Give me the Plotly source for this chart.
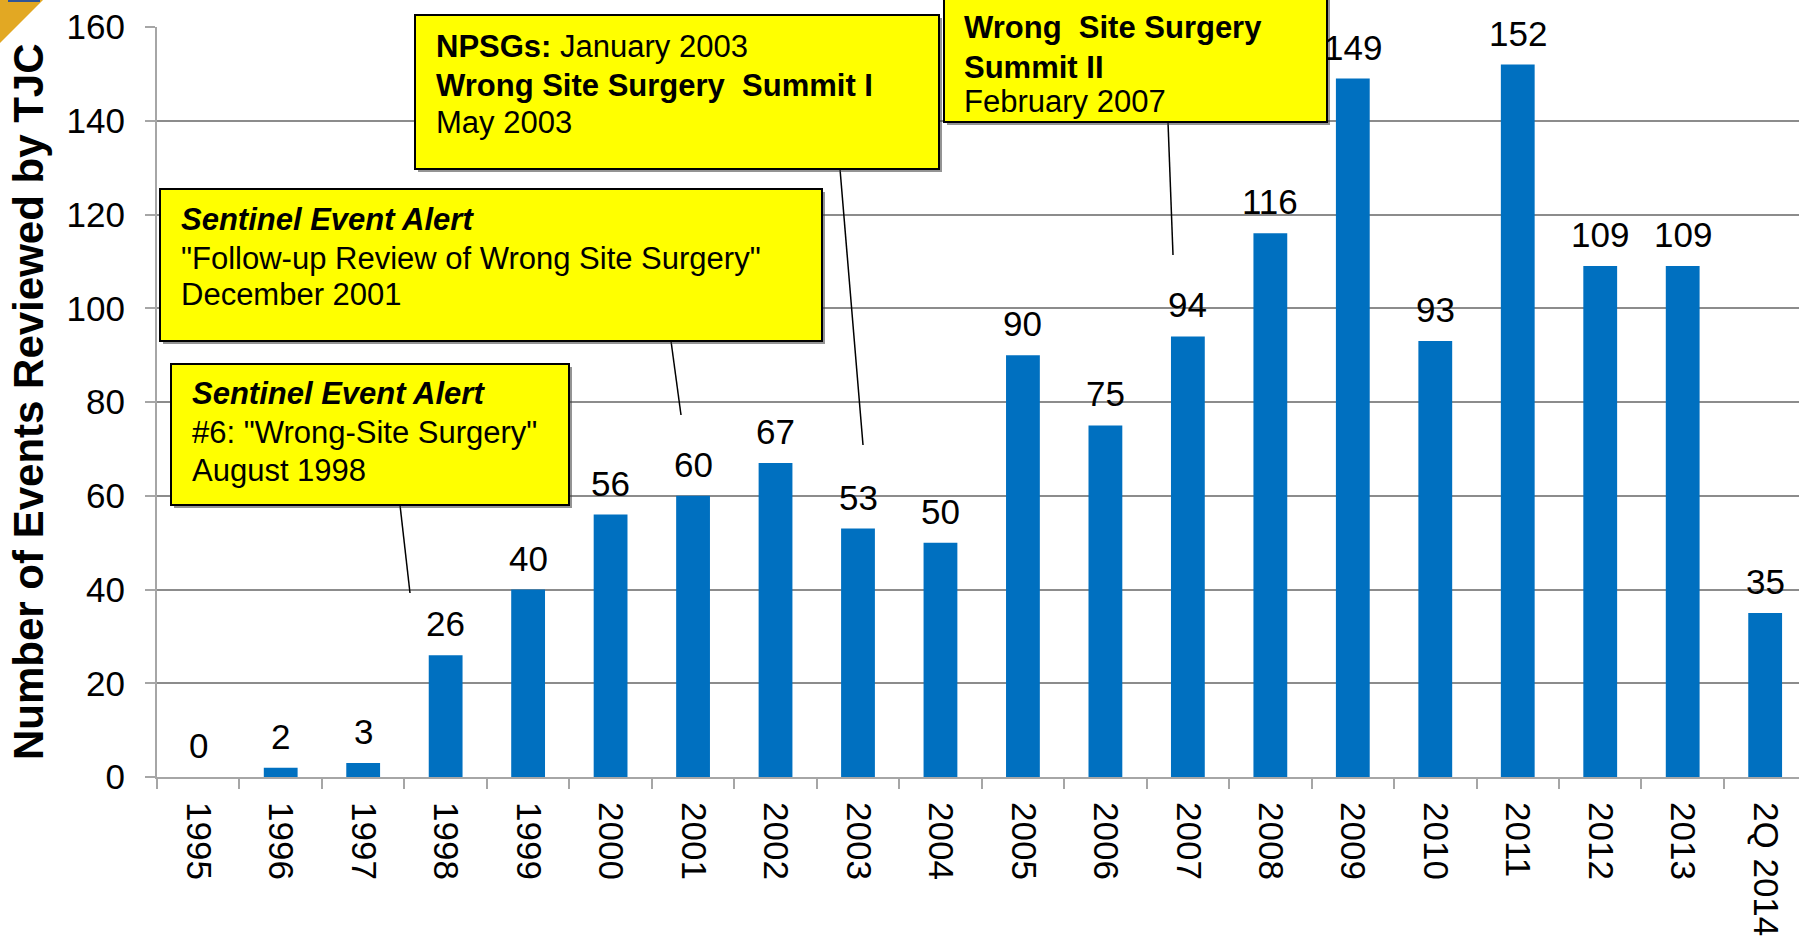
import plotly.graph_objects as go

categories = ["1995", "1996", "1997", "1998", "1999", "2000", "2001", "2002", "2003", "2004",
              "2005", "2006", "2007", "2008", "2009", "2010", "2011", "2012", "2013", "2Q 2014"]
events = [0, 2, 3, 26, 40, 56, 60, 67, 53, 50, 90, 75, 94, 116, 149, 93, 152, 109, 109, 35]
y_ticks = [0, 20, 40, 60, 80, 100, 120, 140, 160]

W, H = 1799, 943
L, R, T, B = 157, 0, 27, 166
PW, PH = W - L - R, H - T - B
CAT_W = 82.47

FONT = "Arial, 'Liberation Sans', sans-serif"
BAR = "#0070C0"
GRID = "#8C8C8C"
AXIS = "#A6A6A6"


def px(x):
    return (x - L) / PW


def py(y):
    return (H - B - y) / PH


fig = go.Figure()
fig.add_trace(go.Bar(
    x=categories, y=events, width=0.41,
    marker=dict(color=BAR, line=dict(width=0)),
    hoverinfo="x+y", showlegend=False,
))

annotations = []
for i, v in enumerate(events):
    # category axis: numeric x is the category index
    annotations.append(dict(
        x=i, y=v, xref="x", yref="y", text=str(v), showarrow=False,
        yanchor="bottom", yshift=10, font=dict(family=FONT, size=35, color="black"),
    ))

# y axis title
annotations.append(dict(
    x=px(28), y=0.5, xref="paper", yref="paper", text="<b>Number of Events Reviewed by TJC</b>",
    textangle=-90, showarrow=False, xanchor="center", yanchor="middle",
    font=dict(family=FONT, size=42, color="black"),
))

shapes = []
# gold corner triangle
shapes.append(dict(
    type="path", xref="paper", yref="paper",
    path=f"M {px(0)},{py(0)} L {px(43)},{py(0)} L {px(0)},{py(43)} Z",
    fillcolor="#E2A823", line=dict(width=0), layer="above",
))
shapes.append(dict(
    type="line", xref="paper", yref="paper",
    x0=px(8), y0=py(1), x1=px(40), y1=py(1),
    line=dict(color="#2F5597", width=2), layer="above",
))

boxes = [
    # (x0, y0, x1, y1, text_x, [(y, text)...], leader)
    (171, 364, 569, 505, 190,
     [(393, "<b><i>Sentinel Event Alert</i></b>"),
      (432, "#6: \"Wrong-Site Surgery\""),
      (470, "August 1998")],
     (400, 505, 410, 593)),
    (160, 189, 822, 341, 179,
     [(220, "<b><i>Sentinel Event Alert</i></b>"),
      (258, "\"Follow-up Review of Wrong Site Surgery\""),
      (295, "December 2001")],
     (671, 341, 681, 415)),
    (415, 15, 939, 169, 434,
     [(47, "<b>NPSGs:</b> January 2003"),
      (85, "<b>Wrong Site Surgery\u00a0\u00a0Summit I</b>"),
      (122, "May 2003")],
     (840, 169, 863, 445)),
    (944, -6, 1327, 122, 962,
     [(28, "<b>Wrong\u00a0\u00a0Site Surgery</b>"),
      (67, "<b>Summit II</b>"),
      (102, "February 2007")],
     (1168, 122, 1173, 255)),
]

for x0, y0, x1, y1, tx, lines, leader in boxes:
    lx0, ly0, lx1, ly1 = leader
    shapes.append(dict(
        type="line", xref="paper", yref="paper",
        x0=px(lx0), y0=py(ly0), x1=px(lx1), y1=py(ly1),
        line=dict(color="black", width=1.5), layer="above",
    ))
    shapes.append(dict(
        type="rect", xref="paper", yref="paper",
        x0=px(x0 + 3), y0=py(y0 + 3), x1=px(x1 + 3), y1=py(y1 + 3),
        fillcolor="rgba(60,60,60,0.55)", line=dict(width=0), layer="above",
    ))
    shapes.append(dict(
        type="rect", xref="paper", yref="paper",
        x0=px(x0), y0=py(y0), x1=px(x1), y1=py(y1),
        fillcolor="#FFFF00", line=dict(color="black", width=2), layer="above",
    ))
    for ly, t in lines:
        annotations.append(dict(
            x=px(tx), y=py(ly), xref="paper", yref="paper", text=t, showarrow=False,
            xanchor="left", yanchor="middle", font=dict(family=FONT, size=31, color="black"),
        ))

x_end = -0.5 + PW / CAT_W

fig.update_layout(
    width=W, height=H,
    margin=dict(l=L, r=R, t=T, b=B, autoexpand=False),
    paper_bgcolor="white", plot_bgcolor="white",
    bargap=0.59,
    xaxis=dict(
        type="category", categoryorder="array", categoryarray=categories,
        range=[-0.5, x_end], tickangle=90, tickson="boundaries",
        ticks="outside", ticklen=10, tickwidth=2, tickcolor=AXIS,
        showline=True, linecolor=AXIS, linewidth=2, showgrid=False, zeroline=False,
        tickfont=dict(family=FONT, size=35, color="black"), automargin=False,
        ticklabelstandoff=16,
    ),
    yaxis=dict(
        range=[0, 160], tickmode="array", tickvals=y_ticks,
        ticks="outside", ticklen=10, tickwidth=2, tickcolor=AXIS,
        showline=True, linecolor=AXIS, linewidth=2,
        showgrid=True, gridcolor=GRID, gridwidth=1.5, zeroline=False,
        tickfont=dict(family=FONT, size=35, color="black"), automargin=False,
        ticklabelstandoff=13,
    ),
    annotations=annotations,
    shapes=shapes,
    font=dict(family=FONT),
)

fig.write_html(
    "out.html",
    config={"displayModeBar": False},
    post_script="document.body.style.margin='0px';document.body.style.overflow='hidden';",
)
